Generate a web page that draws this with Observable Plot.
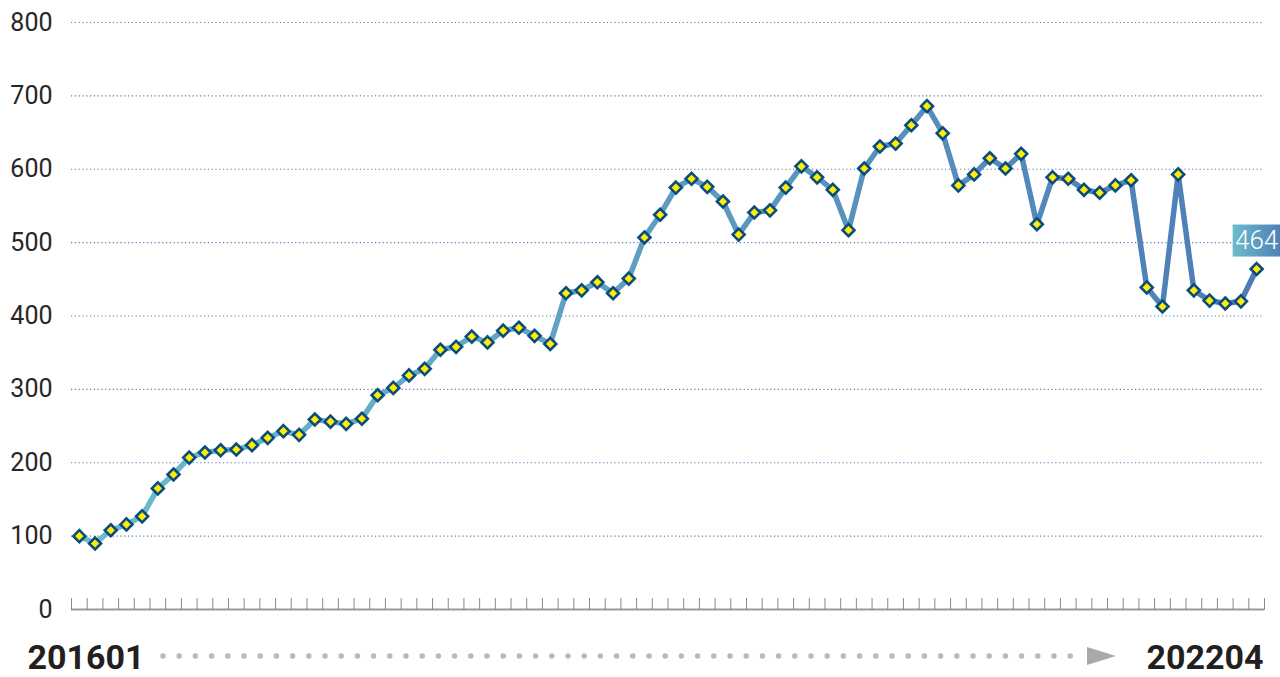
<!DOCTYPE html>
<html>
<head>
<meta charset="utf-8">
<script src="https://cdn.jsdelivr.net/npm/d3@7"></script>
<script src="https://cdn.jsdelivr.net/npm/@observablehq/plot@0.6"></script>
<style>
  html, body { margin: 0; padding: 0; background: #ffffff; }
  #chart { width: 1280px; height: 677px; overflow: hidden; }
</style>
</head>
<body>
<div id="chart"></div>
<script>
const months = [
  "201601","201602","201603","201604","201605","201606","201607","201608","201609","201610","201611","201612",
  "201701","201702","201703","201704","201705","201706","201707","201708","201709","201710","201711","201712",
  "201801","201802","201803","201804","201805","201806","201807","201808","201809","201810","201811","201812",
  "201901","201902","201903","201904","201905","201906","201907","201908","201909","201910","201911","201912",
  "202001","202002","202003","202004","202005","202006","202007","202008","202009","202010","202011","202012",
  "202101","202102","202103","202104","202105","202106","202107","202108","202109","202110","202111","202112",
  "202201","202202","202203","202204"
];
const values = [
  100, 90, 108, 116, 127, 165, 184, 207, 214, 217, 218, 224,
  234, 243, 238, 259, 256, 253, 260, 292, 302, 319, 328, 354,
  358, 372, 364, 380, 384, 373, 362, 431, 435, 446, 431, 451,
  507, 538, 575, 587, 576, 556, 511, 541, 544, 575, 604, 589,
  572, 517, 601, 631, 635, 660, 686, 649, 578, 593, 615, 601,
  621, 525, 589, 587, 572, 568, 578, 585, 439, 413, 593, 435,
  421, 417, 420, 464
];
const yTicks = [0, 100, 200, 300, 400, 500, 600, 700, 800];
const gridTicks = [100, 200, 300, 400, 500, 600, 700, 800];

const data = months.map((m, i) => ({i, month: m, value: values[i]}));
const monthEdges = d3.range(-0.5, months.length, 1);
const last = data[data.length - 1];

const W = 1280, H = 677;
const LABEL_DY = -28.5;
const plot = Plot.plot({
  width: W,
  height: H,
  marginLeft: 71,
  marginRight: 16,
  marginTop: 22,
  marginBottom: 68,
  style: {fontFamily: "Roboto, 'Noto Sans', sans-serif", background: "#ffffff", color: "#231f20"},
  x: {domain: [-0.5, months.length - 0.5]},
  y: {domain: [0, 800]},
  marks: [
    Plot.gridY(gridTicks, {stroke: "#3f62ad", strokeOpacity: 0.85, strokeWidth: 1.2, strokeDasharray: "1.2,2.6"}),
    Plot.axisY(yTicks, {tickSize: 0, tickPadding: 19, fontSize: 25, fontWeight: 400, fill: "#2a2526", label: null}),
    Plot.ruleY([0], {stroke: "#9a9a9a", strokeWidth: 2}),
    Plot.axisX(monthEdges, {anchor: "top", frameAnchor: "bottom", tickSize: 12, stroke: "#8a8a8a", strokeWidth: 1, fill: "none", label: null, tickFormat: () => ""}),
    Plot.lineY(data, {x: "i", y: "value", stroke: "url(#lineGrad)", strokeWidth: 5.5, strokeLinejoin: "round"}),
    Plot.dot(data, {x: "i", y: "value", symbol: "diamond2", r: 5.4, fill: "#ffee00", stroke: "#0b4c80", strokeWidth: 2.6}),
    Plot.text([last], {x: "i", y: "value", text: d => String(d.value), dy: LABEL_DY, fill: "#ffffff", fontSize: 26, fontWeight: 300, className: "last-label"}),
    Plot.text([months[0]], {frameAnchor: "bottom-left", text: d => d, textAnchor: "start", lineAnchor: "bottom", dx: -44, dy: 59, fontSize: 34, fontWeight: 700, fill: "#231f20"}),
    Plot.text([months[months.length - 1]], {frameAnchor: "bottom-right", text: d => d, textAnchor: "end", lineAnchor: "bottom", dx: -1, dy: 59, fontSize: 34, fontWeight: 700, fill: "#231f20"})
  ]
});

document.getElementById("chart").appendChild(plot);

// gradients
const svg = d3.select(plot);
const sx = plot.scale("x"), sy = plot.scale("y");
const defs = svg.insert("defs", ":first-child");
const lg = defs.append("linearGradient").attr("id", "lineGrad")
  .attr("gradientUnits", "userSpaceOnUse")
  .attr("x1", sx.apply(0)).attr("x2", sx.apply(months.length - 1)).attr("y1", 0).attr("y2", 0);
lg.append("stop").attr("offset", "0%").attr("stop-color", "#6cbccb");
lg.append("stop").attr("offset", "100%").attr("stop-color", "#4d7cb6");
const bg = defs.append("linearGradient").attr("id", "boxGrad").attr("x1", 0).attr("x2", 1).attr("y1", 0).attr("y2", 0);
bg.append("stop").attr("offset", "0%").attr("stop-color", "#6bbcc9");
bg.append("stop").attr("offset", "100%").attr("stop-color", "#4f80b8");

// label box behind last value (the text group already carries the dy offset as a transform)
const lx = sx.apply(last.i), ly = sy.apply(last.value);
const labelG = svg.select("g.last-label");
labelG.insert("rect", ":first-child")
  .attr("x", lx - 24).attr("y", ly - 16).attr("width", 48).attr("height", 32)
  .attr("fill", "url(#boxGrad)");

// dotted arrow between the first and last month labels
const deco = svg.append("g").attr("class", "arrow");
deco.append("line")
  .attr("x1", 163).attr("x2", 1082).attr("y1", 656).attr("y2", 656)
  .attr("stroke", "#b9b9b9").attr("stroke-width", 5.5)
  .attr("stroke-linecap", "round").attr("stroke-dasharray", "0 16.2");
deco.append("polygon")
  .attr("points", "1087,647 1116,656 1087,665")
  .attr("fill", "#a9a9a9");
</script>
</body>
</html>
